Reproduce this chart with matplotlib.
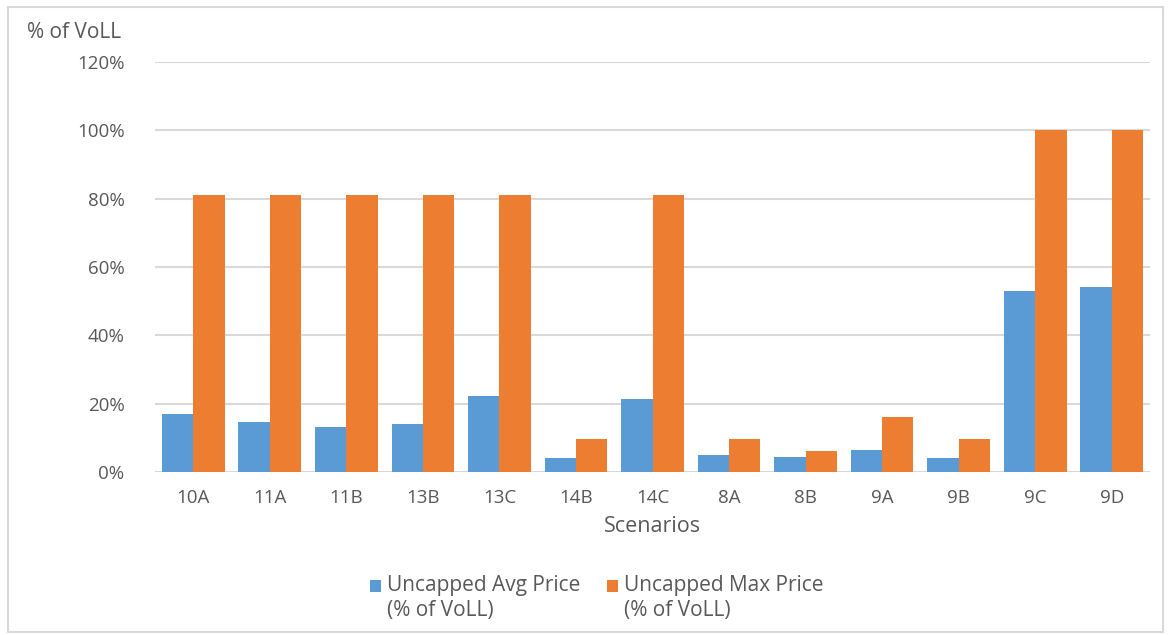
import matplotlib.pyplot as plt
import numpy as np
from matplotlib.patches import Rectangle
from matplotlib.container import BarContainer
from matplotlib.legend_handler import HandlerPatch, update_from_first_child

# scenario labels and values (fraction of VoLL)
scenarios = ['10A', '11A', '11B', '13B', '13C', '14B', '14C', '8A', '8B', '9A', '9B', '9C', '9D']
avg_price = [0.170, 0.147, 0.133, 0.141, 0.222, 0.041, 0.213, 0.050, 0.044, 0.064, 0.041, 0.529, 0.541]
max_price = [0.810, 0.810, 0.810, 0.810, 0.810, 0.098, 0.810, 0.098, 0.061, 0.161, 0.098, 1.000, 1.000]
yticks = [0, 0.2, 0.4, 0.6, 0.8, 1.0, 1.2]

blue = '#5b9bd5'
orange = '#ed7d31'
grey_text = '#595959'

plt.rcParams['font.family'] = ['Open Sans', 'DejaVu Sans']


# legend square sits next to the first line of the two-line label
def top_square(legend, orig_handle, xdescent, ydescent, width, height, fontsize):
    return Rectangle((-xdescent, -ydescent + 0.62 * fontsize), width, height)


fig = plt.figure(figsize=(11.71, 6.35), dpi=100)
ax = fig.add_axes([155 / 1171, 1 - 472 / 635, 995 / 1171, 410 / 635])

x = np.arange(len(scenarios))
w = 0.41
ax.bar(x - w / 2, avg_price, width=w, color=blue, label='Uncapped Avg Price\n(% of VoLL)', zorder=3)
ax.bar(x + w / 2, max_price, width=w, color=orange, label='Uncapped Max Price\n(% of VoLL)', zorder=3)

ax.set_xlim(-0.5, len(scenarios) - 0.5)
ax.set_ylim(0, 1.2)
ax.set_yticks(yticks)
ax.set_yticklabels(['{:.0f}%'.format(v * 100) for v in yticks])
ax.set_xticks(x)
ax.set_xticklabels(scenarios)
ax.tick_params(length=0, labelsize=13.5, labelcolor=grey_text)
ax.tick_params(axis='y', pad=22)
ax.tick_params(axis='x', pad=12)
ax.grid(axis='y', color='#d9d9d9', linewidth=1.5, zorder=0)
for s in ax.spines.values():
    s.set_visible(False)

ax.set_xlabel('Scenarios', fontsize=15.5, color=grey_text, labelpad=7)
fig.text(27 / 1171, 1 - 33 / 635, '% of VoLL', fontsize=15, color=grey_text, va='center', ha='left')

leg = fig.legend(loc='center', bbox_to_anchor=(597 / 1171, 1 - 598 / 635), ncol=2, frameon=False,
                 fontsize=15, handlelength=0.5, handleheight=0.5, handletextpad=0.3, columnspacing=1.3,
                 handler_map={BarContainer: HandlerPatch(patch_func=top_square,
                                                         update_func=update_from_first_child)})
for t in leg.get_texts():
    t.set_color(grey_text)
    t.set_linespacing(1.2)

# outer chart border
fig.patches.append(Rectangle((8 / 1171, 3 / 635), 1155 / 1171, 625 / 635, transform=fig.transFigure,
                             fill=False, edgecolor='#d9d9d9', linewidth=1.5))

fig.savefig('out.png', dpi=100)
